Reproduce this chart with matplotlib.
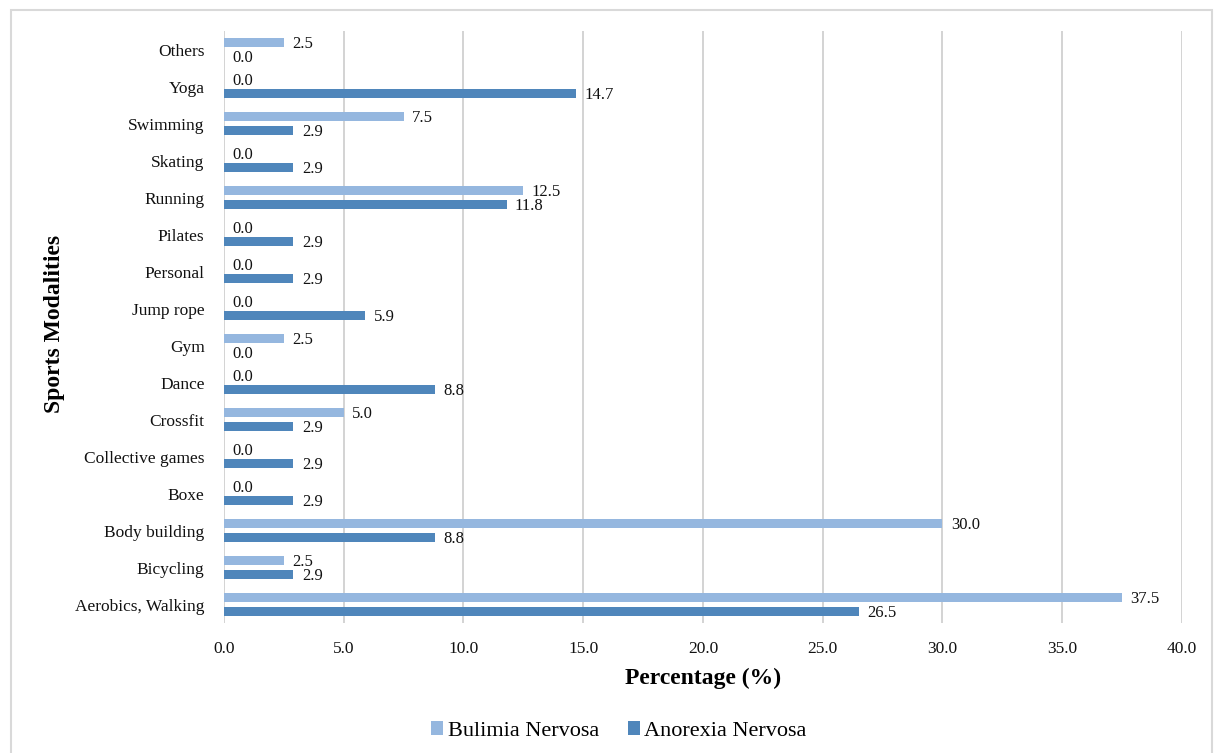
import numpy as np
import matplotlib.pyplot as plt
from matplotlib.patches import Rectangle

plt.rcParams["font.family"] = ["Liberation Serif", "DejaVu Serif"]

# listed bottom to top
modalities = ["Aerobics, Walking", "Bicycling", "Body building", "Boxe",
              "Collective games", "Crossfit", "Dance", "Gym", "Jump rope",
              "Personal", "Pilates", "Running", "Skating", "Swimming",
              "Yoga", "Others"]
bulimia = [37.5, 2.5, 30.0, 0.0, 0.0, 5.0, 0.0, 2.5, 0.0, 0.0, 0.0, 12.5,
           0.0, 7.5, 0.0, 2.5]
anorexia = [26.5, 2.9, 8.8, 2.9, 2.9, 2.9, 8.8, 0.0, 5.9, 2.9, 2.9, 11.8,
            2.9, 2.9, 14.7, 0.0]

light = "#95B7DF"
dark = "#4F86BB"

fig = plt.figure(figsize=(12.16, 7.53), dpi=100)
ax = fig.add_axes([0.1842, 0.1726, 0.7878, 0.7856])

y = np.arange(len(modalities))
h = 0.245
off = 0.19
b1 = ax.barh(y + off, bulimia, height=h, color=light, label="Bulimia Nervosa", zorder=3)
b2 = ax.barh(y - off, anorexia, height=h, color=dark, label="Anorexia Nervosa", zorder=3)

for bars, vals in ((b1, bulimia), (b2, anorexia)):
    for bar, v in zip(bars, vals):
        ax.annotate(f"{v:.1f}", (v, bar.get_y() + bar.get_height() / 2),
                    xytext=(6, -1), textcoords="offset points",
                    va="center", ha="left", fontsize=12, color="#111111")

ax.set_xlim(0, 40)
ax.set_ylim(-0.5, len(modalities) - 0.5)
ax.set_xticks(np.arange(0, 41, 5))
ax.set_xticklabels([f"{t:.1f}" for t in np.arange(0, 41, 5)])
ax.set_yticks(y)
ax.set_yticklabels(modalities)
ax.tick_params(length=0, labelsize=12.5, colors="#111111")
ax.tick_params(axis="x", pad=13)
ax.tick_params(axis="y", pad=14)
ax.grid(axis="x", color="#D0D0D0", linewidth=1.3, zorder=0)
for s in ax.spines.values():
    s.set_visible(False)

ax.set_xlabel("Percentage (%)", fontsize=17, fontweight="bold", labelpad=8)
fig.text(0.045, 0.57, "Sports Modalities", rotation=90, fontsize=17,
         fontweight="bold", ha="center", va="center")

fig.legend(handles=[b1, b2], loc="center", bbox_to_anchor=(0.509, 0.029),
           ncol=2, frameon=False, fontsize=16, handlelength=0.55,
           handleheight=0.55, handletextpad=0.2, columnspacing=1.3)

fig.patches.append(Rectangle((0.009, -0.01), 0.988, 0.997, transform=fig.transFigure,
                             fill=False, edgecolor="#D9D9D9", linewidth=1.5))

fig.savefig("out.png", dpi=100)
